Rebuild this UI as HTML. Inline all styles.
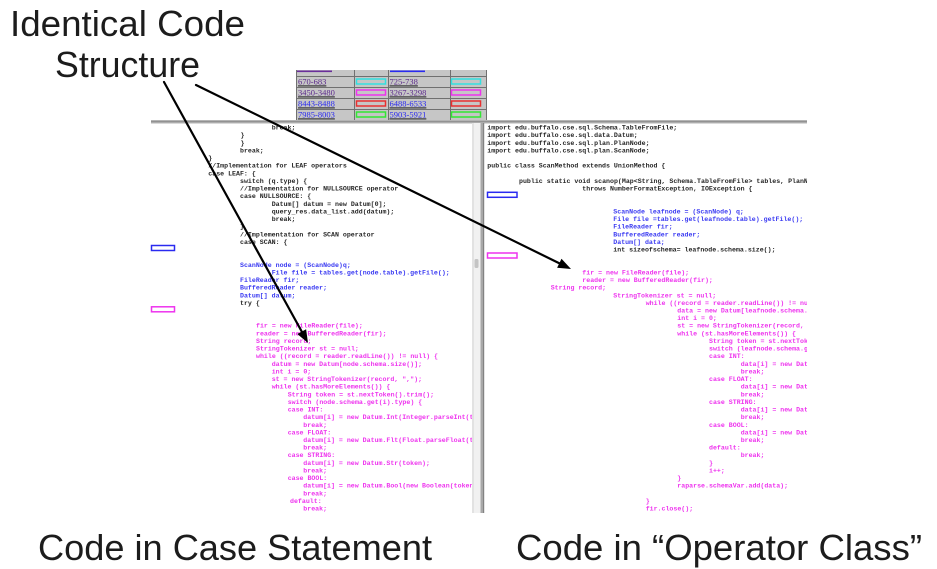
<!DOCTYPE html>
<html>
<head>
<meta charset="utf-8">
<style>
  html, body { margin:0; padding:0; background:#ffffff; }
  body { width:937px; height:569px; overflow:hidden; }
  svg { display:block; }
  .big { font-family:"Liberation Sans", "DejaVu Sans", sans-serif; font-size:36px; fill:#1c1c1c; }
  .code { font-family:"Liberation Mono", "DejaVu Sans Mono", monospace; font-size:6.6px; font-weight:bold; }
  .k { fill:#262626; }
  .b { fill:#3a3af2; }
  .m { fill:#ee33ee; }
  .lnk { font-family:"Liberation Serif", serif; font-size:8.5px; text-decoration:underline; }
</style>
</head>
<body>
<svg width="937" height="569" viewBox="0 0 937 569" xmlns="http://www.w3.org/2000/svg">
  <defs>
    <clipPath id="cl"><rect x="151" y="123" width="321" height="392"/></clipPath>
    <clipPath id="cr"><rect x="485" y="123" width="322" height="392"/></clipPath>
  </defs>

  <!-- table -->
  <rect x="296" y="70" width="191" height="51" fill="#c6c6c6"/>
  <rect x="297" y="70.5" width="35" height="1.6" fill="#6a2e9a"/>
  <rect x="390" y="70.5" width="35" height="1.6" fill="#2a2af0"/>
  <g stroke="#707070" stroke-width="1">
    <line x1="296.5" y1="70" x2="296.5" y2="121"/>
    <line x1="354.5" y1="70" x2="354.5" y2="121"/>
    <line x1="388.5" y1="70" x2="388.5" y2="121"/>
    <line x1="450.5" y1="70" x2="450.5" y2="121"/>
    <line x1="486.5" y1="70" x2="486.5" y2="121"/>
    <line x1="296" y1="76.5" x2="487" y2="76.5"/>
    <line x1="296" y1="87.5" x2="487" y2="87.5"/>
    <line x1="296" y1="98.5" x2="487" y2="98.5"/>
    <line x1="296" y1="109.5" x2="487" y2="109.5"/>
  </g>
  <g class="lnk">
    <text x="298" y="84.5" fill="#5c2a8c">670-683</text>
    <text x="298" y="95.5" fill="#5c2a8c">3450-3480</text>
    <text x="298" y="106.5" fill="#2a2af0">8443-8488</text>
    <text x="298" y="117.5" fill="#2a2af0">7985-8003</text>
    <text x="389.5" y="84.5" fill="#5c2a8c">725-738</text>
    <text x="389.5" y="95.5" fill="#5c2a8c">3267-3298</text>
    <text x="389.5" y="106.5" fill="#2a2af0">6488-6533</text>
    <text x="389.5" y="117.5" fill="#2a2af0">5903-5921</text>
  </g>
  <g fill="none" stroke-width="1.5">
    <rect x="356.5" y="79" width="29" height="5" stroke="#33e0e0"/>
    <rect x="356.5" y="90" width="29" height="5" stroke="#ee33ee"/>
    <rect x="356.5" y="101" width="29" height="5" stroke="#e83030"/>
    <rect x="356.5" y="112" width="29" height="5" stroke="#33e633"/>
    <rect x="451.5" y="79" width="29" height="5" stroke="#33e0e0"/>
    <rect x="451.5" y="90" width="29" height="5" stroke="#ee33ee"/>
    <rect x="451.5" y="101" width="29" height="5" stroke="#e83030"/>
    <rect x="451.5" y="112" width="29" height="5" stroke="#33e633"/>
  </g>

  <!-- gray separator bar -->
  <rect x="151" y="120" width="656" height="3.5" fill="#b4b4b4"/>
  <rect x="151" y="121.2" width="656" height="1" fill="#8a8a8a"/>

  <!-- scrollbar between panels -->
  <rect x="472" y="123" width="9" height="390" fill="#f1f1f1"/>
  <rect x="472" y="123" width="2" height="390" fill="#e2e2e2"/>
  <rect x="480.5" y="123" width="3" height="390" fill="#a8a8a8"/>
  <rect x="483.2" y="123" width="1" height="390" fill="#7a7a7a"/>
  <rect x="474.5" y="259" width="4" height="9" rx="1.5" fill="#c4c4c4"/>

  <!-- marker boxes -->
  <g fill="none" stroke-width="1.5">
    <rect x="151.5" y="245.5" width="23" height="5" stroke="#2a2af0"/>
    <rect x="151.5" y="306.8" width="23" height="5" stroke="#ee33ee"/>
    <rect x="487.5" y="192.3" width="29.5" height="5" stroke="#2a2af0"/>
    <rect x="487.5" y="253" width="29.5" height="5" stroke="#ee33ee"/>
  </g>

  <!-- left code -->
  <g class="code" clip-path="url(#cl)">
    <text class="k" x="271.7" y="129.6">break;</text>
    <text class="k" x="240.5" y="137.2">}</text>
    <text class="k" x="240.5" y="144.8">}</text>
    <text class="k" x="240" y="152.5">break;</text>
    <text class="k" x="208.3" y="160.1">}</text>
    <text class="k" x="208.3" y="167.7">//Implementation for LEAF operators</text>
    <text class="k" x="208.3" y="175.3">case LEAF: {</text>
    <text class="k" x="240" y="182.9">switch (q.type) {</text>
    <text class="k" x="240" y="190.6">//Implementation for NULLSOURCE operator</text>
    <text class="k" x="240" y="198.2">case NULLSOURCE: {</text>
    <text class="k" x="271.7" y="205.8">Datum[] datum = new Datum[0];</text>
    <text class="k" x="271.7" y="213.4">query_res.data_list.add(datum);</text>
    <text class="k" x="271.7" y="221.0">break;</text>
    <text class="k" x="240" y="228.6">}</text>
    <text class="k" x="240" y="236.3">//Implementation for SCAN operator</text>
    <text class="k" x="240" y="243.9">case SCAN: {</text>
    <text class="b" x="240" y="266.8">ScanNode node = (ScanNode)q;</text>
    <text class="b" x="271.7" y="274.4">File file = tables.get(node.table).getFile();</text>
    <text class="b" x="240" y="282.0">FileReader fir;</text>
    <text class="b" x="240" y="289.6">BufferedReader reader;</text>
    <text class="b" x="240" y="297.3">Datum[] datum;</text>
    <text class="k" x="240" y="304.9">try {</text>
    <text class="m" x="256" y="327.7">fir = new FileReader(file);</text>
    <text class="m" x="256" y="335.4">reader = new BufferedReader(fir);</text>
    <text class="m" x="256" y="343.0">String record;</text>
    <text class="m" x="256" y="350.6">StringTokenizer st = null;</text>
    <text class="m" x="256" y="358.2">while ((record = reader.readLine()) != null) {</text>
    <text class="m" x="271.7" y="365.8">datum = new Datum[node.schema.size()];</text>
    <text class="m" x="271.7" y="373.4">int i = 0;</text>
    <text class="m" x="271.7" y="381.1">st = new StringTokenizer(record, ",");</text>
    <text class="m" x="271.7" y="388.7">while (st.hasMoreElements()) {</text>
    <text class="m" x="287.7" y="396.3">String token = st.nextToken().trim();</text>
    <text class="m" x="287.7" y="403.9">switch (node.schema.get(i).type) {</text>
    <text class="m" x="287.7" y="411.5">case INT:</text>
    <text class="m" x="303.3" y="419.2">datum[i] = new Datum.Int(Integer.parseInt(token));</text>
    <text class="m" x="303.3" y="426.8">break;</text>
    <text class="m" x="287.7" y="434.4">case FLOAT:</text>
    <text class="m" x="303.3" y="442.0">datum[i] = new Datum.Flt(Float.parseFloat(token));</text>
    <text class="m" x="303.3" y="449.6">break;</text>
    <text class="m" x="287.7" y="457.2">case STRING:</text>
    <text class="m" x="303.3" y="464.9">datum[i] = new Datum.Str(token);</text>
    <text class="m" x="303.3" y="472.5">break;</text>
    <text class="m" x="287.7" y="480.1">case BOOL:</text>
    <text class="m" x="303.3" y="487.7">datum[i] = new Datum.Bool(new Boolean(token));</text>
    <text class="m" x="303.3" y="495.3">break;</text>
    <text class="m" x="290" y="503.0">default:</text>
    <text class="m" x="303.3" y="510.6">break;</text>
  </g>

  <!-- right code -->
  <g class="code" clip-path="url(#cr)">
    <text class="k" x="487.3" y="129.6">import edu.buffalo.cse.sql.Schema.TableFromFile;</text>
    <text class="k" x="487.3" y="137.2">import edu.buffalo.cse.sql.data.Datum;</text>
    <text class="k" x="487.3" y="144.8">import edu.buffalo.cse.sql.plan.PlanNode;</text>
    <text class="k" x="487.3" y="152.5">import edu.buffalo.cse.sql.plan.ScanNode;</text>
    <text class="k" x="487.3" y="167.7">public class ScanMethod extends UnionMethod {</text>
    <text class="k" x="519" y="182.9">public static void scanop(Map&lt;String, Schema.TableFromFile&gt; tables, PlanNode q)</text>
    <text class="k" x="582.3" y="190.6">throws NumberFormatException, IOException {</text>
    <text class="b" x="613.3" y="213.4">ScanNode leafnode = (ScanNode) q;</text>
    <text class="b" x="613.3" y="221.0">File file =tables.get(leafnode.table).getFile();</text>
    <text class="b" x="613.3" y="228.6">FileReader fir;</text>
    <text class="b" x="613.3" y="236.3">BufferedReader reader;</text>
    <text class="b" x="613.3" y="243.9">Datum[] data;</text>
    <text class="k" x="613.3" y="251.5">int sizeofschema= leafnode.schema.size();</text>
    <text class="m" x="582.3" y="274.4">fir = new FileReader(file);</text>
    <text class="m" x="582.3" y="282.0">reader = new BufferedReader(fir);</text>
    <text class="m" x="550.7" y="289.6">String record;</text>
    <text class="m" x="613.3" y="297.3">StringTokenizer st = null;</text>
    <text class="m" x="645.7" y="304.9">while ((record = reader.readLine()) != null) {</text>
    <text class="m" x="677.3" y="312.5">data = new Datum[leafnode.schema.size()];</text>
    <text class="m" x="677.3" y="320.1">int i = 0;</text>
    <text class="m" x="677.3" y="327.7">st = new StringTokenizer(record, ",");</text>
    <text class="m" x="677.3" y="335.4">while (st.hasMoreElements()) {</text>
    <text class="m" x="709" y="343.0">String token = st.nextToken().trim();</text>
    <text class="m" x="709" y="350.6">switch (leafnode.schema.get(i).type) {</text>
    <text class="m" x="709" y="358.2">case INT:</text>
    <text class="m" x="740.7" y="365.8">data[i] = new Datum.Int(Integer.parseInt(token));</text>
    <text class="m" x="740.7" y="373.4">break;</text>
    <text class="m" x="709" y="381.1">case FLOAT:</text>
    <text class="m" x="740.7" y="388.7">data[i] = new Datum.Flt(Float.parseFloat(token));</text>
    <text class="m" x="740.7" y="396.3">break;</text>
    <text class="m" x="709" y="403.9">case STRING:</text>
    <text class="m" x="740.7" y="411.5">data[i] = new Datum.Str(token);</text>
    <text class="m" x="740.7" y="419.2">break;</text>
    <text class="m" x="709" y="426.8">case BOOL:</text>
    <text class="m" x="740.7" y="434.4">data[i] = new Datum.Bool(new Boolean(token));</text>
    <text class="m" x="740.7" y="442.0">break;</text>
    <text class="m" x="709" y="449.6">default:</text>
    <text class="m" x="740.7" y="457.2">break;</text>
    <text class="m" x="709" y="464.9">}</text>
    <text class="m" x="709" y="472.5">i++;</text>
    <text class="m" x="677.3" y="480.1">}</text>
    <text class="m" x="677.3" y="487.7">raparse.schemaVar.add(data);</text>
    <text class="m" x="645.7" y="503.0">}</text>
    <text class="m" x="645.7" y="510.6">fir.close();</text>
  </g>

  <!-- arrows -->
  <g stroke="#000" stroke-width="2.2" fill="none" stroke-linecap="round">
    <line x1="164" y1="82" x2="302" y2="332"/>
    <line x1="196" y1="85" x2="560" y2="263.6"/>
  </g>
  <polygon points="308,343 297.3,334 306.1,329.2" fill="#000"/>
  <polygon points="571,269 557.1,267.8 561.5,258.8" fill="#000"/>

  <!-- big labels -->
  <text class="big" x="10" y="36" textLength="235" lengthAdjust="spacingAndGlyphs">Identical Code</text>
  <text class="big" x="55" y="77" textLength="145" lengthAdjust="spacingAndGlyphs">Structure</text>
  <text class="big" x="38" y="560" textLength="394" lengthAdjust="spacingAndGlyphs">Code in Case Statement</text>
  <text class="big" x="516" y="560" textLength="406" lengthAdjust="spacingAndGlyphs">Code in “Operator Class”</text>
</svg>
</body>
</html>
